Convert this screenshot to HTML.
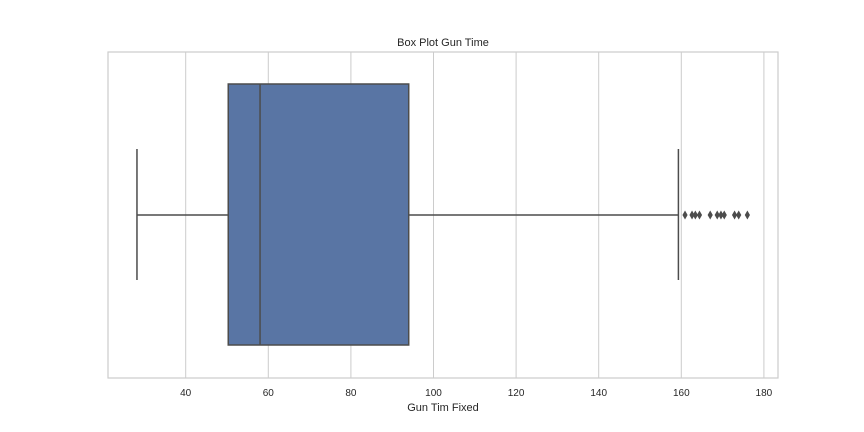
<!DOCTYPE html>
<html><head><meta charset="utf-8"><style>body{margin:0;background:#fff}svg{display:block;font-family:"Liberation Sans",sans-serif}</style></head>
<body>
<svg id="c" width="864" height="432"></svg>
<script>
const ticks=[40,60,80,100,120,140,160,180];
const box={whiskerLow:28.2,q1:50.3,median:58.0,q3:94.0,whiskerHigh:159.3};
const outliers=[160.9,162.6,163.4,164.4,167.0,168.7,169.6,170.4,172.9,173.9,176.0];
const ns="http://www.w3.org/2000/svg",s=document.getElementById('c');
function x(v){return 185.7+(v-40)*4.13;}
function el(t,a,p){const e=document.createElementNS(ns,t);for(const k in a)e.setAttribute(k,a[k]);(p||s).appendChild(e);return e;}
const L=108,R=778,T=52,B=378,cy=215;
el('rect',{x:L,y:T,width:R-L,height:B-T,fill:'#fff',});
ticks.forEach(t=>{
 const g=el('line',{x1:x(t),x2:x(t),y1:T,y2:B,stroke:'#cccccc','stroke-width':1});
 
 
 const tx=el('text',{x:x(t),y:396,'text-anchor':'middle','font-size':10,fill:'#262626'});
 tx.textContent=t;
 
 
});
el('rect',{x:L,y:T,width:R-L,height:B-T,fill:'none',stroke:'#cccccc','stroke-width':1.2,});
const c='#4c4c4c';
let w=el('line',{x1:x(box.whiskerLow),x2:x(box.q1),y1:cy,y2:cy,stroke:c,'stroke-width':1.5});

w=el('line',{x1:x(box.q3),x2:x(box.whiskerHigh),y1:cy,y2:cy,stroke:c,'stroke-width':1.5});

w=el('line',{x1:x(box.whiskerLow),x2:x(box.whiskerLow),y1:149,y2:280,stroke:c,'stroke-width':1.5});

w=el('line',{x1:x(box.whiskerHigh),x2:x(box.whiskerHigh),y1:149,y2:280,stroke:c,'stroke-width':1.5});

const b=el('rect',{x:x(box.q1),y:84,width:x(box.q3)-x(box.q1),height:261,fill:'#5975a4',stroke:c,'stroke-width':1.5});

const m=el('line',{x1:x(box.median),x2:x(box.median),y1:84,y2:345,stroke:c,'stroke-width':1.5});

outliers.forEach((v,i)=>{
 const p=el('path',{d:`M${x(v)},${cy-4.5} L${x(v)+2.6},${cy} L${x(v)},${cy+4.5} L${x(v)-2.6},${cy} Z`,fill:c});
 
 
});
let t=el('text',{x:443,y:46,'text-anchor':'middle','font-size':11,fill:'#262626',});t.textContent='Box Plot Gun Time';
t=el('text',{x:443,y:411,'text-anchor':'middle','font-size':11,fill:'#262626',});t.textContent='Gun Tim Fixed';
</script>
</body></html>
